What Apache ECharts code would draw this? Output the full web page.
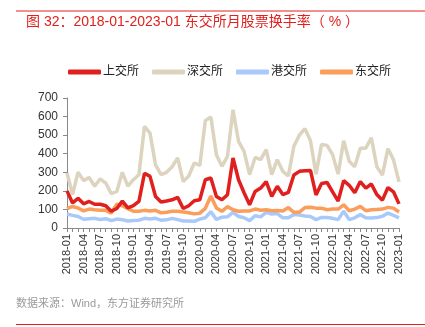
<!DOCTYPE html>
<html><head><meta charset="utf-8">
<script src="https://cdn.jsdelivr.net/npm/echarts@6/dist/echarts.min.js"></script>
<style>html,body{margin:0;padding:0;background:#fff}#c{width:425px;height:327px}</style>
</head><body><div id="c"></div>
<script>
var categories = [];
for (var y = 2018; y <= 2023; y++) { for (var m = 1; m <= 12; m++) { if (y === 2023 && m > 1) break; categories.push(y + '-' + (m < 10 ? '0' + m : m)); } }
var seriesNames = ['上交所', '深交所', '港交所', '东交所'];
var shanghai = [200,135,160,130,143,128,128,120,90,105,145,108,120,143,295,278,170,140,145,152,165,105,120,147,152,260,269,170,152,179,377,260,190,125,197,215,250,170,225,180,192,285,305,308,310,178,240,245,195,145,255,230,190,250,215,237,180,150,218,195,130];
var shenzhen = [296,180,300,255,272,225,265,242,185,197,300,225,260,287,547,511,340,287,300,330,378,250,280,350,337,578,598,395,332,386,637,466,413,287,380,368,422,287,368,305,280,440,500,535,470,290,450,445,395,290,470,360,330,430,430,485,330,285,427,368,248];
var hongkong = [75,68,62,47,50,52,46,50,40,48,45,38,40,42,52,48,52,42,44,52,45,38,38,36,48,55,88,46,58,60,84,62,55,40,66,60,84,75,78,55,55,72,70,65,62,45,57,56,52,45,90,45,55,72,55,54,56,63,80,68,55];
var tokyo = [104,116,108,92,102,98,96,95,80,128,120,104,90,90,95,92,95,82,85,90,90,86,82,76,80,106,172,108,90,115,98,90,92,92,102,96,98,93,94,92,110,84,86,110,112,107,107,98,102,102,125,93,102,116,93,98,100,102,111,107,86];
var yTicks = [0,100,200,300,400,500,600,700];
var colors = ['#e0201e', '#ddd4bf', '#a9c9fb', '#fb9d5b'];
var chart = echarts.init(document.getElementById('c'));
var data = [shanghai, shenzhen, hongkong, tokyo];
var font = '"Liberation Sans", "Noto Sans CJK SC", sans-serif';
chart.setOption({
  animation: false,
  textStyle: {fontFamily: font},
  graphic: [
    {type: 'line', shape: {x1: 16, y1: 11, x2: 425, y2: 11}, style: {stroke: '#e0201e', lineWidth: 1}},
    {type: 'text', left: 26, top: 15, style: {text: '图 32：2018-01-2023-01 东交所月股票换手率（ % ）', fill: '#e0201e', font: '14px ' + font}},
    {type: 'text', left: 16, top: 298, style: {text: '数据来源：Wind，东方证券研究所', fill: '#9a9a9a', font: '11px ' + font}},
    {type: 'line', shape: {x1: 16, y1: 324.5, x2: 425, y2: 324.5}, style: {stroke: '#e0201e', lineWidth: 1}}
  ],
  legend: {
    left: 63, top: 61, itemWidth: 33, itemHeight: 5, itemGap: 13, icon: 'roundRect',
    textStyle: {fontSize: 12, color: '#222', padding: [0, 0, 0, -3]},
    data: seriesNames
  },
  grid: {left: 67, right: 26, top: 98, bottom: 99},
  xAxis: {
    type: 'category', data: categories, boundaryGap: false,
    axisLine: {lineStyle: {color: '#888'}},
    axisTick: {show: true, interval: 0, length: 4, lineStyle: {color: '#888'}},
    axisLabel: {interval: 2, rotate: 90, fontSize: 11, color: '#333', margin: 6}
  },
  yAxis: {
    type: 'value', min: 0, max: 700, interval: 100,
    splitLine: {show: false},
    axisLine: {show: true, lineStyle: {color: '#888'}},
    axisTick: {show: true, length: 4, lineStyle: {color: '#888'}},
    axisLabel: {fontSize: 12, color: '#333', margin: 9}
  },
  series: seriesNames.map(function (n, k) {
    return {
      name: n, type: 'line', data: data[k], showSymbol: false, symbol: 'none',
      z: [4, 1, 2, 3][k],
      lineStyle: {color: colors[k], width: 3.5},
      itemStyle: {color: colors[k]}
    };
  })
});
</script></body></html>
